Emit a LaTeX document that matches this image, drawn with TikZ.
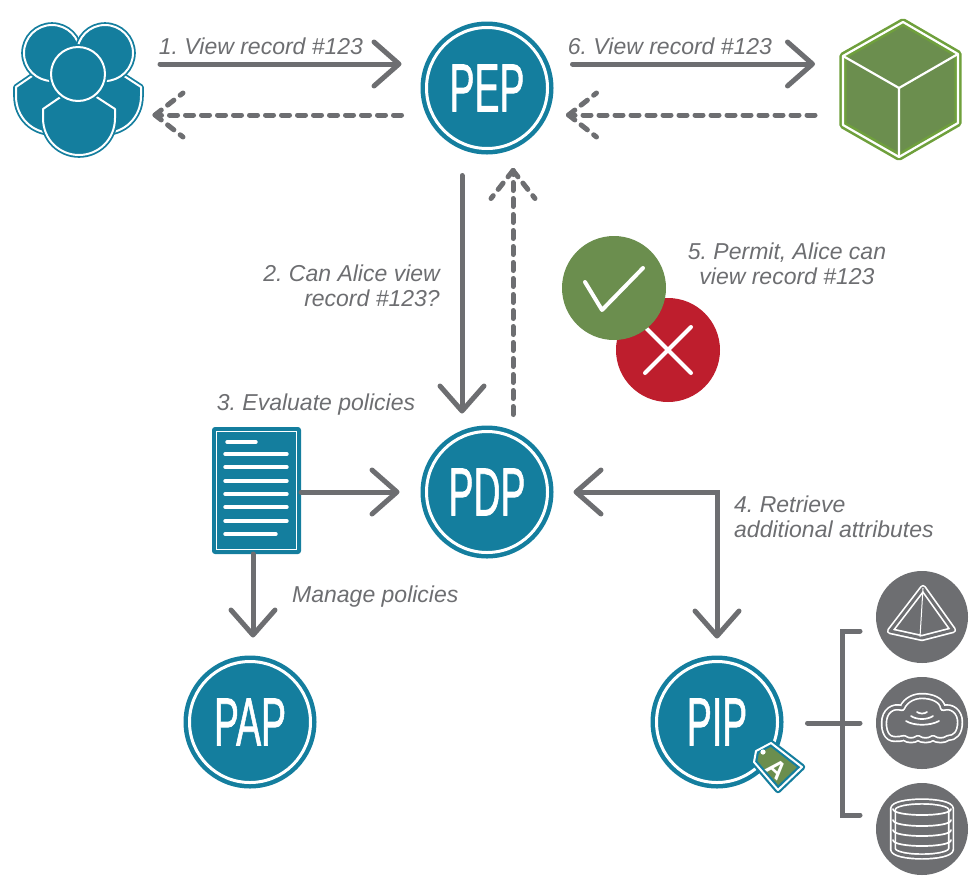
\documentclass[tikz,border=0pt]{standalone}
\usepackage{fontspec}
\usepackage{xcolor}
\usetikzlibrary{arrows.meta}
\setmainfont{Liberation Sans}
\newfontfamily\ptfont[FakeBold=1.3]{Liberation Sans}
\frenchspacing

\definecolor{flowgray}{HTML}{6D6E71}
\definecolor{azteal}{HTML}{147E9E}
\definecolor{azgreen}{HTML}{6B8E4E}
\definecolor{azlime}{HTML}{6FA03C}
\definecolor{azred}{HTML}{BE1E2D}

\newcommand{\ptname}[1]{\scalebox{0.55}[1]{\fontsize{68}{68}\ptfont #1}}

\tikzset{
    barb/.tip={Straight Barb[length=25pt,width=44pt,round]},
    flow/.style={draw=flowgray, line width=5pt, line cap=round},
    flowdash/.style={flow, dash pattern=on 8pt off 8pt},
    flowtext/.style={text=flowgray, inner sep=0pt, font=\fontsize{23}{25}\selectfont\itshape},
    point/.style={circle, fill=azteal, draw=azteal, double=white, line width=4.5pt,
        double distance=3pt, minimum size=121pt, inner sep=0pt, outer sep=0pt,
        text=white},
    source/.style={circle, fill=flowgray, minimum size=92pt, inner sep=0pt, outer sep=0pt},
    person/.style={fill=azteal, draw=azteal, double=white, line width=1.8pt,
        double distance=2pt, line join=round},
    iconline/.style={draw=white, double=flowgray, line width=1.7pt,
        double distance=3pt, line join=round},
    icondetail/.style={draw=white, line width=1.7pt, line cap=round},
    dashtip/.pic={
        \draw[flowdash] (0,0) -- (28,22);
        \draw[flowdash] (0,0) -- (28,-22);
    }
}

\begin{document}
\begin{tikzpicture}[x=1pt,y=-1pt]
    \useasboundingbox (0,0) rectangle (979,884);

    % Users
    \node[minimum width=150pt, minimum height=140pt, inner sep=0pt, outer sep=0pt] (users) at (85,88) {};
    \foreach \dx in {-27,26} {
        \draw[person, shift={(\dx,-22)}] (43,109) -- (62,96) -- (95,96) -- (115,109) -- (115,118)
            .. controls (115,140) and (98,155) .. (79,155)
            .. controls (60,155) and (43,140) .. (43,118) -- cycle;
    }
    \draw[person] (52,53) circle (28);
    \draw[person] (105,53) circle (28);
    \draw[person] (43,109) -- (62,96) -- (95,96) -- (115,109) -- (115,118)
        .. controls (115,140) and (98,155) .. (79,155)
        .. controls (60,155) and (43,140) .. (43,118) -- cycle;
    \draw[person] (78,74) circle (27);

    % Points
    \node[point] (pep) at (487,88) {\ptname{PEP}};
    \node[point] (pdp) at (487,492) {\ptname{PDP}};
    \node[point] (pap) at (250,722) {\ptname{PAP}};
    \node[point] (pip) at (717,722) {\ptname{PIP}};

    % Resource cube
    \node[minimum width=124pt, minimum height=144pt, inner sep=0pt, outer sep=0pt] (resource) at (900,88) {};
    \draw[fill=azgreen, draw=azlime, double=white, line width=2.6pt, double distance=2.2pt, line join=round]
        (903,22) -- (958,54) -- (958,123) -- (899,157) -- (843,125) -- (843,56) -- cycle;
    \draw[white, line width=2.2pt] (843,56) -- (899,88) -- (958,54) (899,88) -- (899,157);

    % Policy document
    \node[rectangle, rounded corners=3pt, fill=azteal, minimum width=89pt, minimum height=127pt,
        inner sep=0pt, outer sep=0pt] (doc) at (256.5,490.5) {};
    \draw[white, line width=1.2pt] (216.5,431.5) rectangle (296.5,549.5);
    \draw[white, line width=3.4pt, line cap=round] (227,442) -- (256,442);
    \foreach \y in {454,467,481,494,507,521} {
        \draw[white, line width=3.4pt, line cap=round] (225,\y) -- (287,\y);
    }
    \draw[white, line width=3.4pt, line cap=round] (225,534) -- (276,534);

    % Permit and deny
    \node[circle, fill=azred, minimum size=104pt, inner sep=0pt] (deny) at (668,350) {};
    \draw[white, line width=4pt, line cap=round] (645,327) -- (691,373) (691,327) -- (645,373);
    \node[circle, fill=azgreen, minimum size=104pt, inner sep=0pt] (permit) at (614,288) {};
    \draw[white, line width=4pt, line cap=round, line join=round] (585,282) -- (602,310) -- (643,268);

    % Tag on PIP
    \draw[fill=azgreen, draw=azteal, double=white, line width=2.2pt, double distance=2pt, line join=round]
        (771,743) -- (802,767) -- (778,790) -- (754,762) -- (756,751) -- cycle;
    \fill[white] (763,752) circle (2.6);
    \node[text=white, rotate=-42, font=\fontsize{25}{25}\selectfont\bfseries, inner sep=0pt] (attr) at (777,769) {A};

    % Attribute sources
    \node[source] (pyramid) at (922,617) {};
    \node[source] (cloud) at (922,723) {};
    \node[source] (store) at (922,829) {};
    \draw[iconline] (923,588) -- (953,630) -- (922,638) -- (890,631) -- cycle;
    \draw[white, line width=1pt] (923,588) -- (920,637);
    \draw[iconline] (895,739) .. controls (886,739) and (884,730) .. (884,723)
        .. controls (884,711) and (893,705) .. (902,708)
        .. controls (906,699) and (915,696) .. (922,696)
        .. controls (932,696) and (942,700) .. (943,708)
        .. controls (952,705) and (960,712) .. (960,722)
        .. controls (960,733) and (955,738) .. (948,738)
        .. controls (944,741) and (937,741) .. (933,738)
        .. controls (929,741) and (922,741) .. (918,738)
        .. controls (914,741) and (908,741) .. (904,738)
        .. controls (901,739) and (898,739) .. (895,739) -- cycle;
    \draw[icondetail] (917,712) .. controls (920,714) and (924,714) .. (927,712);
    \draw[icondetail] (911,716) .. controls (917,720) and (927,720) .. (933,716);
    \draw[icondetail] (906,721) .. controls (914,726) and (930,726) .. (939,721);
    \draw[iconline] (893,809) .. controls (893,799) and (951,799) .. (951,809) -- (951,849)
        .. controls (951,859) and (893,859) .. (893,849) -- cycle;
    \draw[icondetail] (893,809) .. controls (893,817) and (951,817) .. (951,809);
    \foreach \y in {820,830,840} {
        \draw[icondetail] (893,\y) .. controls (893,\y+8) and (951,\y+8) .. (951,\y);
    }

    % Requests and responses
    \draw[flow, -barb] ([yshift=24pt]users.east) -- ([xshift=-25pt,yshift=24pt]pep.west);
    \draw[flowdash] ([xshift=-25pt,yshift=-27pt]pep.west) -- ([yshift=-27pt]users.east) coordinate (backuser);
    \pic at (backuser) [xshift=-5pt] {dashtip};
    \draw[flow, -barb] ([xshift=25pt,yshift=24pt]pep.east) -- ([xshift=-23pt,yshift=24pt]resource.west);
    \draw[flowdash] ([xshift=-23pt,yshift=-27pt]resource.west) -- ([xshift=25pt,yshift=-27pt]pep.east) coordinate (backpep);
    \pic at (backpep) [xshift=-4pt] {dashtip};
    \draw[flow, -barb] ([xshift=-25pt,yshift=-27pt]pep.south) -- ([xshift=-25pt,yshift=18pt]pdp.north);
    \draw[flowdash] ([xshift=26pt,yshift=17pt]pdp.north) -- ([xshift=26pt,yshift=-22pt]pep.south) coordinate (backpdp);
    \pic[rotate=-90] at (backpdp) {dashtip};
    \draw[flow, -barb] (doc.east |- pdp.west) -- ([xshift=-27pt]pdp.west);
    \draw[flow, -barb] ([xshift=-3.5pt]doc.south) -- ([xshift=3pt,yshift=24pt]pap.north);
    \draw[flow, barb-barb] ([xshift=26pt]pdp.east) -| ([yshift=23pt]pip.north);

    % Source bracket
    \draw[flow] ([xshift=30pt]pip.east |- cloud.west) -- ([xshift=-16pt]cloud.west);
    \draw[flow] ([xshift=-16pt,yshift=-14pt]pyramid.west) -- ++(-18,0) |- ([xshift=-16pt,yshift=14pt]store.west);

    % Labels
    \node[flowtext] (t1) at (261,46) {1. View record \#123};
    \node[flowtext] (t6) at (670,46) {6. View record \#123};
    \node[flowtext, align=right, anchor=east] (t2) at (440,286) {2. Can Alice view\\record \#123?};
    \node[flowtext] (t3) at (316,405) {3. Evaluate policies};
    \node[flowtext, align=center] (t5) at (787,264) {5. Permit, Alice can\\view record \#123};
    \node[flowtext, align=left, anchor=west] (t4) at (734,517) {4. Retrieve\\additional attributes};
    \node[flowtext, anchor=west] (tm) at (292,597) {Manage policies};
\end{tikzpicture}
\end{document}
